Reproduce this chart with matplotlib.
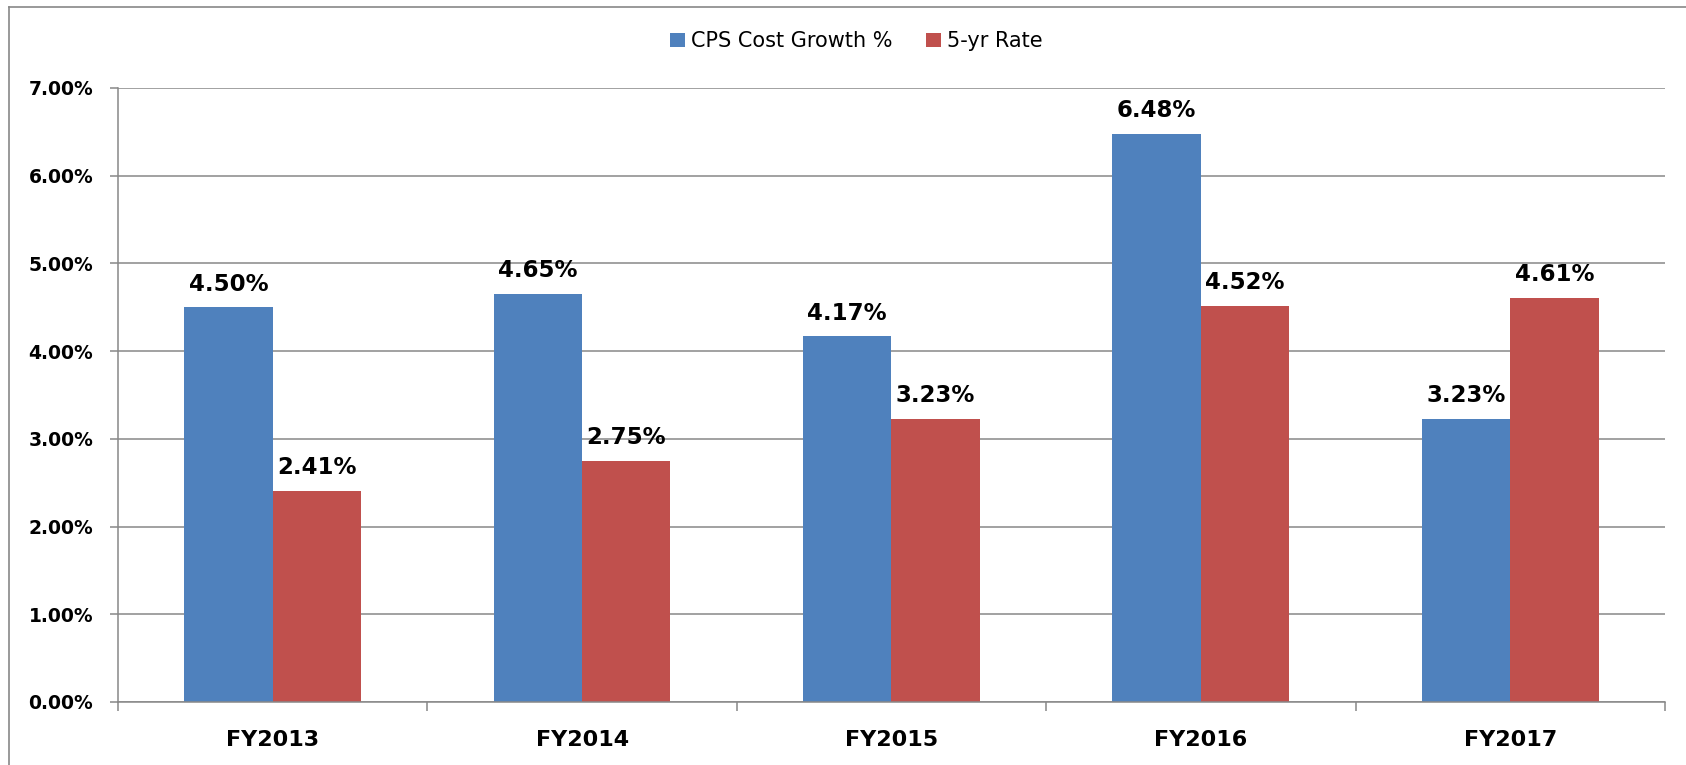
import numpy as np
import matplotlib.pyplot as plt
from matplotlib.lines import Line2D
from matplotlib.patches import Patch

# 数据
years = ['FY2013', 'FY2014', 'FY2015', 'FY2016', 'FY2017']
cps_growth = [4.50, 4.65, 4.17, 6.48, 3.23]
rate_5yr = [2.41, 2.75, 3.23, 4.52, 4.61]
series_names = ['CPS Cost Growth %', '5-yr Rate']
colors = ['#4F81BD', '#C0504D']
grey = '#888888'

fig = plt.figure(figsize=(16.86, 7.65), dpi=100)
ax = fig.add_axes([0.0700, 0.0824, 0.9175, 0.8026])

x = np.arange(len(years))
bw = 1 / 3.5  # Excel gap width 150%
for i, (vals, c) in enumerate(zip([cps_growth, rate_5yr], colors)):
    pos = x + (i - 0.5) * bw
    ax.bar(pos, vals, bw, color=c, zorder=3)
    for px, v in zip(pos, vals):
        ax.annotate(f'{v:.2f}%', (px, v), xytext=(0, 12), textcoords='offset points',
                    ha='center', va='baseline', fontsize=16.5, fontweight='bold', zorder=4)

ax.set_xlim(-0.5, len(years) - 0.5)
ax.set_ylim(0, 7)
ax.set_yticks(range(0, 8))
ax.set_yticklabels([f'{v:.2f}%' for v in range(0, 8)], fontsize=13.5, fontweight='bold')
ax.yaxis.grid(True, color=grey, lw=1.1, zorder=0)

# x轴: 刻度在分类边界, 标签在中间
ax.set_xticks(np.arange(-0.5, len(years)))
ax.set_xticklabels([])
ax.set_xticks(x, minor=True)
ax.set_xticklabels(years, minor=True, fontsize=16, fontweight='bold')
ax.tick_params(axis='x', which='major', direction='out', length=6.5, width=1.1, color=grey)
ax.tick_params(axis='x', which='minor', length=0, pad=20)
ax.tick_params(axis='y', direction='out', length=5.8, width=1.1, color=grey, pad=12)

for s in ['top', 'right']:
    ax.spines[s].set_visible(False)
for s in ['left', 'bottom']:
    ax.spines[s].set_color(grey)
    ax.spines[s].set_linewidth(1.1)
    ax.spines[s].set_zorder(5)

handles = [Patch(facecolor=c, label=n) for c, n in zip(colors, series_names)]
fig.legend(handles=handles, loc='center', bbox_to_anchor=(0.508, 0.946), ncol=2,
           frameon=False, fontsize=15, handlelength=0.72, handleheight=0.72,
           handletextpad=0.3, columnspacing=1.6)

# 图表外框
fig.add_artist(Line2D([8.5 / 1686, 8.5 / 1686], [0, 1 - 6.5 / 765], color=grey, lw=1.2,
                      transform=fig.transFigure))
fig.add_artist(Line2D([8.5 / 1686, 1], [1 - 6.5 / 765, 1 - 6.5 / 765], color=grey, lw=1.2,
                      transform=fig.transFigure))

plt.savefig('out.png', dpi=100)
